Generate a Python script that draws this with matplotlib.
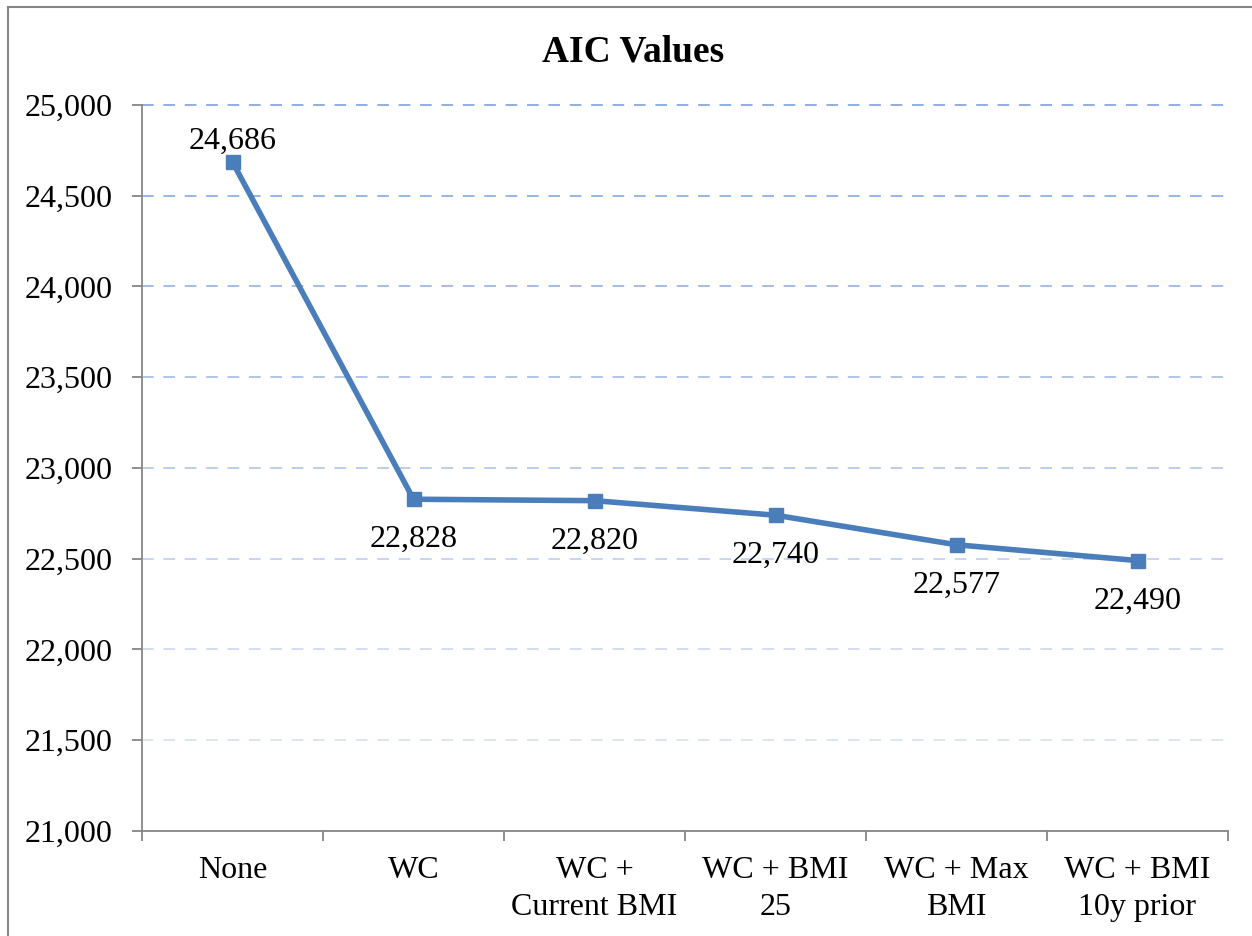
import matplotlib.pyplot as plt
from matplotlib.patches import Rectangle
from matplotlib.ticker import FuncFormatter

categories = ['None', 'WC', 'WC +\nCurrent BMI', 'WC + BMI\n25', 'WC + Max\nBMI', 'WC + BMI\n10y prior']
aic = [24686, 22828, 22820, 22740, 22577, 22490]
y_ticks = [21000, 21500, 22000, 22500, 23000, 23500, 24000, 24500, 25000]
grid_colors = ['#DDE5F3', '#D3DDF1', '#C8D5EF', '#BCCDEC', '#B0C5EA', '#A5BDE8', '#99B5E6', '#8FAEE4']

plt.rcParams['font.family'] = ['Liberation Serif', 'DejaVu Serif']

fig = plt.figure(figsize=(12.52, 9.36), dpi=100)
ax = fig.add_axes([142 / 1252, 1 - 831 / 936, 1086 / 1252, 726 / 936])

# marco gris alrededor de la figura
fig.patches.append(Rectangle((8 / 1252, -0.05), 1.1, 1 - 7 / 936 + 0.05,
                             transform=fig.transFigure, fill=False,
                             edgecolor='#868686', linewidth=1.5))

x = list(range(len(categories)))

# líneas de cuadrícula discontinuas, más claras hacia abajo
for yv, c in zip(y_ticks[1:], grid_colors):
    ax.axhline(yv, color=c, linestyle=(0, (6, 5)), linewidth=1.4, zorder=0, clip_on=False)

ax.plot(x, aic, color='#4A7EBB', linewidth=4, marker='s', markersize=10,
        markerfacecolor='#4A7EBB', markeredgecolor='#4A7EBB', zorder=3)

for i, v in enumerate(aic):
    if i == 0:
        ax.annotate(f'{v:,}', (i, v), xytext=(0, 15), textcoords='offset points',
                    ha='center', va='center', fontsize=23)
    else:
        ax.annotate(f'{v:,}', (i, v), xytext=(0, -29), textcoords='offset points',
                    ha='center', va='center', fontsize=23)

ax.set_xlim(-0.5, len(categories) - 0.5)
ax.set_ylim(y_ticks[0], y_ticks[-1])
ax.set_yticks(y_ticks)
ax.yaxis.set_major_formatter(FuncFormatter(lambda v, p: f'{int(v):,}'))
ax.set_xticks(x)
ax.set_xticklabels(categories, linespacing=1.35)
ax.set_xticks([i - 0.5 for i in range(len(categories) + 1)], minor=True)
ax.tick_params(axis='x', which='major', length=0, pad=18, labelsize=23)
ax.tick_params(axis='x', which='minor', length=7, width=1.3, color='#868686')
ax.tick_params(axis='y', length=7, width=1.3, color='#868686', labelsize=23, pad=14)

for s in ['top', 'right']:
    ax.spines[s].set_visible(False)
for s in ['left', 'bottom']:
    ax.spines[s].set_color('#868686')
    ax.spines[s].set_linewidth(1.3)

fig.text(633 / 1252, 1 - 52 / 936, 'AIC Values', ha='center', va='center',
         fontsize=27, fontweight='bold')

fig.savefig('out.png', dpi=100)
